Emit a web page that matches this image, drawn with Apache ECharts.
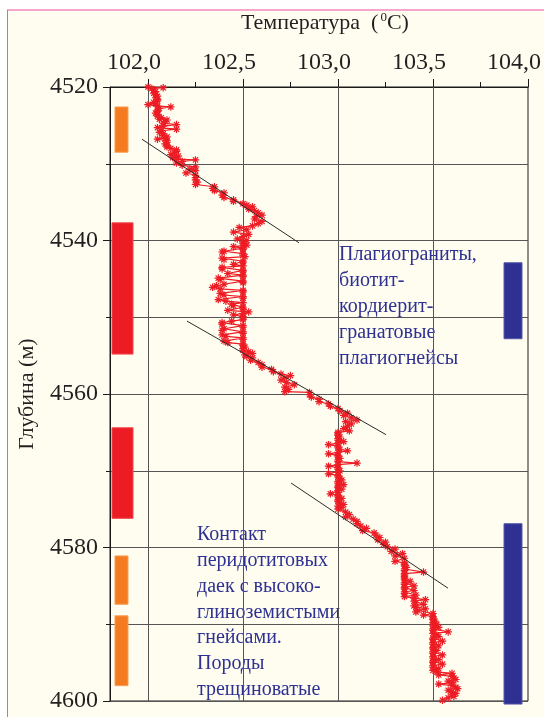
<!DOCTYPE html>
<html>
<head>
<meta charset="utf-8">
<script src="https://cdn.jsdelivr.net/npm/echarts@6/dist/echarts.min.js"></script>
<style>
html,body{margin:0;padding:0;background:#ffffff;width:544px;height:717px;overflow:hidden;}
#frame{position:absolute;left:7px;top:9px;width:560px;height:720px;background:#fffdf0;border-left:1px solid #e060c0;border-top:2px solid #f5a6cc;}
#chart{position:absolute;left:0;top:0;width:544px;height:717px;}
</style>
</head>
<body>
<div id="frame"></div>
<div id="chart"></div>
<script>
// ---- Data ----
const xTickLabels = [102.0, 102.5, 103.0, 103.5, 104.0];
const xMinorTicks = [102.25, 102.75, 103.25, 103.75];
const yMajorTicks = [4520, 4540, 4560, 4580, 4600];

// profile readings [depth (m), temperature (°C)], by depth section
const sectionA = [
[4520.0,102.00],[4520.1,102.08],[4520.2,102.02],[4520.4,102.03],[4520.6,102.04],[4520.8,102.03],[4521.0,102.04],[4521.2,102.05],
[4521.4,102.04],[4521.6,102.05],[4521.8,102.05],[4522.0,102.03],[4522.2,102.04],[4522.3,102.00],[4522.5,102.05],[4522.6,102.12],
[4522.8,102.06],[4523.0,102.05],[4523.2,102.05],[4523.4,102.04],[4523.6,102.05],[4523.8,102.05],[4524.0,102.07],[4524.2,102.06],
[4524.3,102.10],[4524.5,102.09],[4524.7,102.08],[4524.9,102.15],[4525.1,102.08],[4525.3,102.05],[4525.5,102.15],[4525.7,102.07],
[4525.9,102.06],[4526.1,102.08],[4526.3,102.08],[4526.5,102.10],[4526.7,102.09],[4526.8,102.05],[4527.0,102.10],[4527.2,102.10],
[4527.4,102.09],[4527.6,102.10],[4527.8,102.10],[4528.0,102.12],[4528.2,102.15],[4528.4,102.15],[4528.6,102.14],[4528.8,102.12],
[4529.0,102.16],[4529.2,102.13],[4529.4,102.15],[4529.5,102.25],[4529.7,102.18],[4529.9,102.15]
];
const sectionB = [
[4530.2,102.18],[4530.4,102.25],[4530.7,102.22],[4530.9,102.25],[4531.2,102.20],[4531.5,102.25],[4531.8,102.25],[4532.1,102.25],
[4532.4,102.26],[4532.7,102.25],[4533.0,102.35],[4533.2,102.34],[4533.5,102.35],[4533.8,102.40],[4534.1,102.39],[4534.4,102.40],
[4534.7,102.45],[4534.9,102.45],[4535.2,102.50],[4535.4,102.52],[4535.6,102.55],[4535.9,102.53],[4536.1,102.56],[4536.4,102.58],
[4536.7,102.60],[4536.9,102.57],[4537.2,102.56],[4537.5,102.60],[4537.8,102.58],[4538.1,102.55],[4538.3,102.48],[4538.6,102.52],
[4538.9,102.45],[4539.2,102.53],[4539.5,102.50],[4539.8,102.47],[4540.0,102.52]
];
const sectionC = [
[4540.2,102.50],[4540.4,102.50],[4540.6,102.52],[4540.8,102.45],[4541.0,102.50],[4541.2,102.50],[4541.4,102.40],[4541.5,102.39],
[4541.7,102.50],[4541.9,102.50],[4542.1,102.51],[4542.3,102.39],[4542.5,102.40],[4542.7,102.50],[4542.9,102.50],[4543.1,102.45],
[4543.3,102.50],[4543.5,102.39],[4543.7,102.39],[4543.9,102.50],[4544.1,102.50],[4544.3,102.42],[4544.5,102.50],[4544.7,102.50],
[4544.9,102.37],[4545.1,102.38],[4545.3,102.50],[4545.5,102.50],[4545.7,102.40],[4545.9,102.36],[4546.1,102.34],[4546.3,102.38],
[4546.5,102.50],[4546.7,102.50],[4546.9,102.38],[4547.1,102.40],[4547.3,102.50],[4547.5,102.50],[4547.7,102.37],[4547.9,102.41],
[4548.1,102.50],[4548.3,102.44],[4548.5,102.45],[4548.7,102.50],[4548.9,102.50],[4549.1,102.42],[4549.3,102.53],[4549.5,102.50],
[4549.7,102.45],[4549.9,102.50],[4550.1,102.50],[4550.3,102.50],[4550.5,102.44],[4550.7,102.39],[4550.9,102.39],[4551.1,102.50],
[4551.3,102.50],[4551.5,102.40],[4551.7,102.39],[4551.9,102.50],[4552.1,102.50],[4552.3,102.39],[4552.5,102.41],[4552.7,102.50],
[4552.9,102.50],[4553.1,102.40],[4553.3,102.42],[4553.5,102.50],[4553.7,102.50],[4553.9,102.51],[4554.1,102.50],[4554.3,102.50],
[4554.5,102.53],[4554.7,102.55],[4554.9,102.51],[4555.1,102.52],[4555.3,102.55]
];
const sectionD = [
[4555.6,102.54],[4555.9,102.58],[4556.2,102.60],[4556.5,102.60],[4556.8,102.65],[4557.1,102.66],[4557.4,102.70],[4557.6,102.75],
[4557.9,102.72],[4558.2,102.70],[4558.5,102.73],[4558.8,102.77],[4559.1,102.72],[4559.4,102.74],[4559.7,102.72],[4559.8,102.85],
[4560.1,102.85],[4560.4,102.86],[4560.7,102.90],[4561.0,102.90],[4561.3,102.95],[4561.6,102.96],[4561.9,103.00],[4562.2,103.01],
[4562.5,103.05],[4562.8,103.03],[4563.1,103.07],[4563.4,103.10],[4563.6,103.04],[4563.9,103.07],[4564.2,103.05],[4564.5,103.03],
[4564.8,103.06],[4565.0,103.00]
];
const sectionE = [
[4565.2,103.00],[4565.4,103.00],[4565.6,103.01],[4565.8,103.00],[4566.0,103.00],[4566.2,103.03],[4566.4,103.00],[4566.6,102.95],
[4566.8,103.00],[4567.0,103.00],[4567.2,103.01],[4567.4,103.05],[4567.6,103.00],[4567.8,102.95],[4568.0,103.00],[4568.2,103.00],
[4568.4,103.01],[4568.6,103.00],[4568.8,103.00],[4569.0,103.10],[4569.2,103.00],[4569.4,102.95],[4569.6,103.00],[4569.8,103.00],
[4570.0,103.01],[4570.2,103.00],[4570.4,102.95],[4570.6,103.00],[4570.8,103.00],[4571.0,103.01],[4571.2,103.02],[4571.4,103.00],
[4571.6,103.00],[4571.8,103.03],[4572.0,103.00],[4572.2,103.00],[4572.4,103.02],[4572.6,103.00],[4572.8,103.00],[4573.0,102.96],
[4573.2,103.00],[4573.4,103.00],[4573.6,103.02],[4573.8,103.00],[4574.0,103.00],[4574.2,103.01],[4574.4,103.03],[4574.6,103.00],
[4574.8,103.02],[4575.0,103.00]
];
const sectionF = [
[4575.4,103.04],[4575.7,103.06],[4576.0,103.04],[4576.3,103.08],[4576.6,103.10],[4576.9,103.10],[4577.2,103.12],[4577.5,103.15],
[4577.8,103.13],[4578.1,103.19],[4578.4,103.20],[4578.7,103.22],[4579.0,103.21],[4579.3,103.25],[4579.6,103.24],[4579.9,103.26],
[4580.2,103.30],[4580.5,103.28],[4580.8,103.34],[4581.1,103.30],[4581.4,103.35],[4581.8,103.30]
];
const sectionG = [
[4582.0,103.35],[4582.2,103.35],[4582.4,103.35],[4582.6,103.36],[4582.8,103.35],[4583.0,103.35],[4583.2,103.45],[4583.4,103.35],
[4583.6,103.35],[4583.8,103.35],[4584.0,103.35],[4584.2,103.35],[4584.4,103.38],[4584.6,103.35],[4584.8,103.35],[4585.0,103.40],
[4585.2,103.35],[4585.4,103.35],[4585.6,103.40],[4585.8,103.35],[4586.0,103.35],[4586.2,103.41],[4586.4,103.35],[4586.6,103.40],
[4586.8,103.46],[4587.0,103.40],[4587.2,103.41],[4587.4,103.45],[4587.6,103.40],[4587.8,103.41],[4588.0,103.46],[4588.2,103.42],
[4588.4,103.41],[4588.6,103.50],[4588.8,103.45],[4589.0,103.50]
];
const sectionH = [
[4589.2,103.50],[4589.4,103.50],[4589.6,103.51],[4589.8,103.50],[4590.0,103.52],[4590.2,103.50],[4590.4,103.53],[4590.6,103.50],
[4590.8,103.50],[4591.0,103.58],[4591.2,103.50],[4591.4,103.52],[4591.6,103.53],[4591.8,103.50],[4592.0,103.50],[4592.2,103.55],
[4592.4,103.50],[4592.6,103.50],[4592.8,103.53],[4593.0,103.50],[4593.2,103.50],[4593.4,103.52],[4593.6,103.50],[4593.8,103.50],
[4594.0,103.55],[4594.2,103.50],[4594.4,103.50],[4594.6,103.53],[4594.8,103.50],[4595.0,103.50],[4595.2,103.55],[4595.4,103.50],
[4595.6,103.50],[4595.8,103.53],[4596.0,103.50],[4596.2,103.52],[4596.4,103.60],[4596.6,103.53],[4596.8,103.60],[4597.0,103.61],
[4597.2,103.62],[4597.4,103.58],[4597.6,103.60],[4597.8,103.53],[4598.0,103.60],[4598.2,103.62],[4598.4,103.63],[4598.6,103.58],
[4598.8,103.60],[4599.0,103.62],[4599.2,103.60],[4599.4,103.61],[4599.6,103.58],[4599.9,103.55]
];

// trend lines [temperature, depth]
const trend1 = [[101.968, 4526.8], [102.795, 4540.3]];
const trend2 = [[102.205, 4550.5], [103.253, 4565.3]];
const trend3 = [[102.753, 4571.6], [103.579, 4585.3]];

// lithology intervals [top depth, bottom depth]
const orangeIntervals = [[4522.6, 4528.5], [4581.1, 4587.4], [4588.9, 4598.0]];
const redIntervals = [[4537.7, 4554.8], [4564.4, 4576.2]];
const blueIntervals = [[4542.9, 4552.8], [4576.9, 4600.4]];

const note1 = 'Плагиограниты,\nбиотит-\nкордиерит-\nгранатовые\nплагиогнейсы';
const note2 = 'Контакт\nперидотитовых\nдаек с высоко-\nглиноземистыми\nгнейсами.\nПороды\nтрещиноватые';

// ---- Build ----
const FONT = '"Liberation Serif", "DejaVu Serif", serif';
const profile = [].concat(sectionA, sectionB, sectionC, sectionD, sectionE, sectionF, sectionG, sectionH)
  .map(p => [p[1], p[0]]);
const star = 'path://M4.2,0 L5.8,0 L5.8,3.1 L8.0,0.9 L9.1,2.0 L6.9,4.2 L10,4.2 L10,5.8 L6.9,5.8 L9.1,8.0 L8.0,9.1 L5.8,6.9 L5.8,10 L4.2,10 L4.2,6.9 L2.0,9.1 L0.9,8.0 L3.1,5.8 L0,5.8 L0,4.2 L3.1,4.2 L0.9,2.0 L2.0,0.9 L4.2,3.1 Z';

// column placements (pixel offsets from grid edges) and colours: styling only
const columns = {
  orange: {side: 'left', from: 5, to: 18, color: '#f47b20', stroke: '#f9a055'},
  red:    {side: 'left', from: 2, to: 23, color: '#ed1c24', stroke: '#f04850'},
  blue:   {side: 'right', from: 24, to: 6, color: '#2e3192', stroke: '#5558aa'}
};
const bars = [];
orangeIntervals.forEach(v => bars.push([v[0], v[1], 'orange']));
redIntervals.forEach(v => bars.push([v[0], v[1], 'red']));
blueIntervals.forEach(v => bars.push([v[0], v[1], 'blue']));

const chart = echarts.init(document.getElementById('chart'), null, {renderer: 'canvas'});
const option = {
  backgroundColor: 'transparent',
  animation: false,
  title: {
    left: 236, top: 6,
    text: '{a|Температура  (}{s|0}{a|C)}',
    textStyle: {
      fontWeight: 'normal',
      rich: {
        a: {fontFamily: FONT, fontSize: 22, fontWeight: 'normal', color: '#231f20'},
        s: {fontFamily: FONT, fontSize: 13, fontWeight: 'normal', color: '#231f20', padding: [0, 0, 12, 2]}
      }
    }
  },
  grid: {left: 110, top: 87, right: 16, bottom: 16, show: true, borderColor: '#1a1a1a', borderWidth: 1,
    backgroundColor: 'transparent', containLabel: false, outerBoundsMode: 'none'},
  xAxis: [{
    type: 'value', position: 'top', min: 101.8, max: 104.0,
    axisLine: {show: true, lineStyle: {color: '#1a1a1a', width: 1}},
    axisTick: {show: true, inside: false, length: 8, customValues: xTickLabels, lineStyle: {color: '#1a1a1a'}},
    axisLabel: {show: true, customValues: xTickLabels, margin: 12, fontFamily: FONT, fontSize: 24, color: '#231f20',
      padding: [0, 28, 0, 0], hideOverlap: false,
      formatter: v => v.toFixed(1).replace('.', ',')},
    splitLine: {show: false}
  }, {
    type: 'value', position: 'top', min: 101.8, max: 104.0, offset: 0,
    axisLine: {show: false},
    axisTick: {show: true, inside: false, length: 5, customValues: xMinorTicks, lineStyle: {color: '#1a1a1a'}},
    axisLabel: {show: false},
    splitLine: {show: false}
  }],
  yAxis: [{
    type: 'value', inverse: true, min: 4520, max: 4600, interval: 10,
    name: 'Глубина (м)', nameLocation: 'middle', nameGap: 72, nameRotate: 90,
    nameTextStyle: {fontFamily: FONT, fontSize: 22, color: '#231f20'},
    axisLine: {show: true, lineStyle: {color: '#1a1a1a', width: 1}},
    axisTick: {show: true, inside: false, length: 4, lineStyle: {color: '#1a1a1a'}},
    axisLabel: {show: true, margin: 12, fontFamily: FONT, fontSize: 24, color: '#231f20',
      formatter: v => (v % 20 === 0 ? String(v) : '')},
    splitLine: {show: true, lineStyle: {color: '#555555', width: 1}}
  }, {
    type: 'value', inverse: true, min: 4520, max: 4600, position: 'left', offset: 0,
    axisLine: {show: false},
    axisTick: {show: true, inside: false, length: 7, customValues: yMajorTicks, lineStyle: {color: '#1a1a1a'}},
    axisLabel: {show: false},
    splitLine: {show: false}
  }],
  graphic: [
    {type: 'text', left: 339, top: 242, silent: true,
      style: {text: note1, fontFamily: FONT, fontSize: 20, lineHeight: 26, fill: '#2e3192'}},
    {type: 'text', left: 197, top: 522, silent: true,
      style: {text: note2, fontFamily: FONT, fontSize: 20, lineHeight: 25.8, fill: '#2e3192'}}
  ],
  series: [
    {
      type: 'custom', name: 'lithology', xAxisIndex: 0, yAxisIndex: 0, z: 3, clip: false,
      data: bars,
      renderItem: function (params, api) {
        const cs = params.coordSys;
        const col = columns[api.value(2)];
        const top = api.coord([101.9, api.value(0)])[1];
        const bot = api.coord([101.9, api.value(1)])[1];
        let x0, x1;
        if (col.side === 'left') { x0 = cs.x + col.from; x1 = cs.x + col.to; }
        else { x0 = cs.x + cs.width - col.from; x1 = cs.x + cs.width - col.to; }
        return {type: 'rect', shape: {x: x0, y: top, width: x1 - x0, height: bot - top},
          style: {fill: col.color, stroke: col.stroke, lineWidth: 1}};
      },
      encode: {x: -1, y: [0, 1]}
    },
    {
      type: 'line', name: 'grid', xAxisIndex: 0, yAxisIndex: 0, data: [], z: 1,
      markLine: {silent: true, symbol: ['none', 'none'], label: {show: false},
        lineStyle: {color: '#555555', width: 1, type: 'solid'},
        data: xTickLabels.slice(0, 4).map(v => ({xAxis: v}))}
    },
    {type: 'line', name: 't1', data: trend1, symbol: 'none', lineStyle: {color: '#2a2a2a', width: 1}, z: 6},
    {type: 'line', name: 't2', data: trend2, symbol: 'none', lineStyle: {color: '#2a2a2a', width: 1}, z: 6},
    {type: 'line', name: 't3', data: trend3, symbol: 'none', lineStyle: {color: '#2a2a2a', width: 1}, z: 6},
    {
      type: 'line', name: 'profile', data: profile, z: 5,
      symbol: star, symbolSize: 7.5,
      itemStyle: {color: '#ed1c24'},
      lineStyle: {color: '#ed1c24', width: 1.2}
    }
  ]
};
chart.setOption(option);
</script>
</body>
</html>
